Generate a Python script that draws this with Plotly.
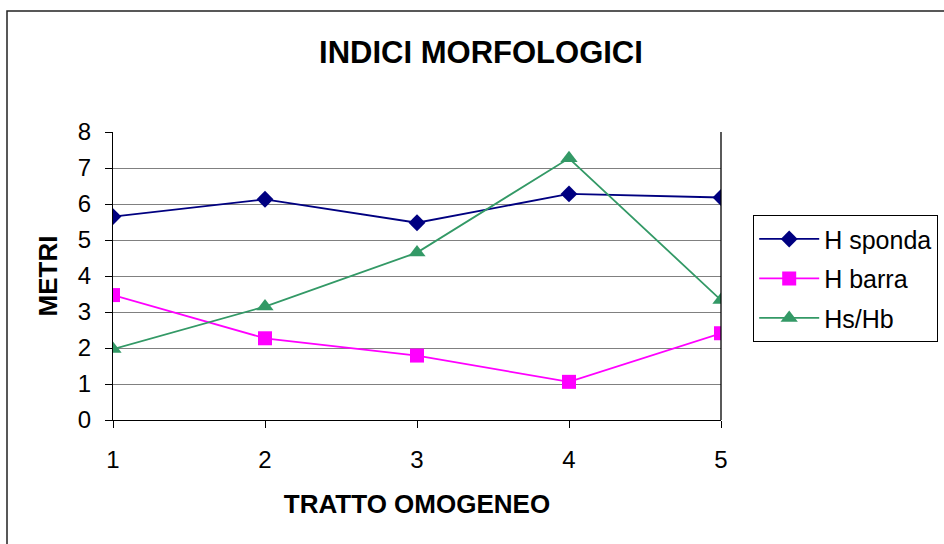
import plotly.graph_objects as go

# Tratti omogenei lungo il corso d'acqua
tratti = [1, 2, 3, 4, 5]

# Indici morfologici (metri)
h_sponda = [5.65, 6.13, 5.48, 6.28, 6.18]
h_barra = [3.47, 2.27, 1.79, 1.06, 2.41]
hs_hb = [1.97, 3.15, 4.65, 7.27, 3.33]

y_ticks = [0, 1, 2, 3, 4, 5, 6, 7, 8]

FONT = "Liberation Sans, Arial, sans-serif"

fig = go.Figure()

fig.add_trace(go.Scatter(
    x=tratti, y=h_sponda, name="H sponda", mode="lines+markers",
    line=dict(color="#000080", width=1.8),
    marker=dict(symbol="diamond", size=13, color="#000080"),
    legendgroup="a",
))
fig.add_trace(go.Scatter(
    x=tratti, y=h_barra, name="H barra", mode="lines+markers",
    line=dict(color="#FF00FF", width=1.8),
    marker=dict(symbol="square", size=14, color="#FF00FF"),
    legendgroup="b",
))
fig.add_trace(go.Scatter(
    x=tratti, y=hs_hb, name="Hs/Hb", mode="lines+markers",
    line=dict(color="#339966", width=1.8),
    marker=dict(symbol="triangle-up", size=15, color="#339966"),
    legendgroup="c",
))

# plot area: x 113..721 px, y 132..420 px
L, R, T, B = 113, 223, 132, 124
W, H = 944, 544
pw, ph = W - L - R, H - T - B

def px_x(x):
    return (x - L) / pw

def px_y(y):
    return (H - B - y) / ph

shapes = [
    # cornice del grafico
    dict(type="rect", xref="paper", yref="paper",
         x0=px_x(7), x1=px_x(960), y0=px_y(560), y1=px_y(11),
         line=dict(color="#222222", width=1.5), layer="below"),
    # bordo destro dell'area del tracciato
    dict(type="line", xref="paper", yref="paper",
         x0=1, x1=1, y0=0, y1=1, line=dict(color="black", width=1.3)),
]

fig.update_layout(
    width=W, height=H,
    margin=dict(l=L, r=R, t=T, b=B, pad=0, autoexpand=False),
    paper_bgcolor="white", plot_bgcolor="white",
    font=dict(family=FONT, size=24, color="black"),
    title=dict(text="<b>INDICI MORFOLOGICI</b>", x=481 / W, xref="container",
               xanchor="center", y=1 - 52 / H, yref="container", yanchor="middle",
               font=dict(size=31, family=FONT, color="black")),
    xaxis=dict(
        range=[1, 5], tickvals=tratti, ticks="outside", ticklen=7,
        tickcolor="black", showline=True, linecolor="black", linewidth=1.3,
        showgrid=False, zeroline=False, ticklabelstandoff=11,
        title=dict(text="<b>TRATTO OMOGENEO</b>", font=dict(size=26), standoff=22),
    ),
    yaxis=dict(
        range=[0, 8], tickvals=y_ticks, ticks="outside", ticklen=7,
        tickcolor="black", showline=True, linecolor="black", linewidth=1.3,
        showgrid=True, gridcolor="#808080", gridwidth=1.3, zeroline=False,
        ticklabelstandoff=9,
        title=dict(text="<b>METRI</b>", font=dict(size=26), standoff=12),
    ),
    legend=dict(
        x=px_x(753), xanchor="left", y=px_y(215), yanchor="top",
        bordercolor="black", borderwidth=1.2, bgcolor="white",
        font=dict(size=25), traceorder="grouped", tracegroupgap=4,
        itemwidth=60,
    ),
    shapes=shapes,
)

fig.write_html("out.html")
